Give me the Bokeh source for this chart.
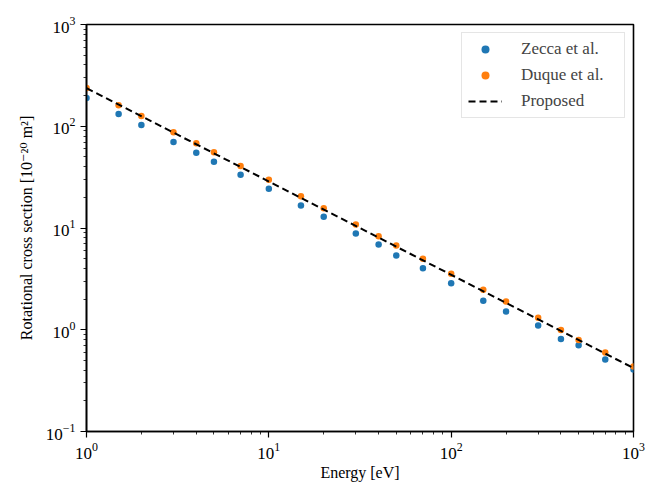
from bokeh.plotting import figure
from bokeh.models import Range1d, Legend, LegendItem
from bokeh.embed import file_html
from bokeh.resources import INLINE

# Data
zecca_energy = [1, 1.5, 2, 3, 4, 5, 7, 10, 15, 20, 30, 40, 50, 70, 100, 150, 200, 300, 400, 500, 700, 1000]
zecca_sigma = [189, 132, 103, 70, 55, 44.7, 33.3, 24.3, 16.6, 12.9, 8.83, 6.9, 5.38, 4.02, 2.87, 1.93, 1.51, 1.10, 0.81, 0.705, 0.51, 0.406]

duque_energy = [1, 1.5, 2, 3, 4, 5, 7, 10, 15, 20, 30, 40, 50, 70, 100, 150, 200, 300, 400, 500, 700, 1000]
duque_sigma = [237, 161, 126, 87.3, 68.1, 55.6, 40.6, 29.8, 20.5, 15.6, 10.8, 8.32, 6.74, 5.0, 3.56, 2.47, 1.90, 1.31, 0.995, 0.795, 0.597, 0.436]

proposed_energy = [1, 1000]
proposed_sigma = [237, 0.42]

FONT = "Liberation Serif"
FONT_FB = "'Liberation Serif', 'DejaVu Serif'"

p = figure(width=647, height=483, x_axis_type="log", y_axis_type="log",
           x_range=Range1d(1, 1000), y_range=Range1d(0.1, 1000),
           output_backend="svg", toolbar_location=None,
           min_border_left=86, min_border_right=14, min_border_top=24, min_border_bottom=50)

p.background_fill_color = "white"
p.border_fill_color = "white"
p.outline_line_color = "black"
p.outline_line_width = 1.6
p.xgrid.visible = False
p.ygrid.visible = False

z = p.scatter(zecca_energy, zecca_sigma, size=6.5, color="#1f77b4", line_color=None)
d = p.scatter(duque_energy, duque_sigma, size=6.5, color="#ff7f0e", line_color=None)
pr = p.line(proposed_energy, proposed_sigma, line_color="black", line_width=2, line_dash="7 4")

for ax in (p.xaxis[0], p.yaxis[0]):
    ax.axis_line_color = "black"
    ax.axis_line_width = 1.6
    ax.major_tick_in = 0
    ax.major_tick_out = 6
    ax.minor_tick_in = 0
    ax.minor_tick_out = 3
    ax.major_tick_line_color = "black"
    ax.minor_tick_line_color = "black"
    ax.major_tick_line_width = 1.2
    ax.minor_tick_line_width = 0.8
    ax.major_label_text_font = FONT
    ax.major_label_text_font_size = "17px"
    ax.major_label_text_color = "black"
    ax.axis_label_text_font = FONT_FB
    ax.axis_label_text_font_size = "16px"
    ax.axis_label_text_font_style = "normal"
    ax.axis_label_text_color = "black"

p.xaxis.axis_label = "Energy [eV]"
p.yaxis.axis_label = "Rotational cross section [10\u207b\u00b2\u2070 m\u00b2]"
p.xaxis.axis_label_standoff = 2
p.yaxis.axis_label_standoff = 8

legend = Legend(items=[
    LegendItem(label="Zecca et al.", renderers=[z]),
    LegendItem(label="Duque et al.", renderers=[d]),
    LegendItem(label="Proposed", renderers=[pr]),
], location="top_right")
legend.label_text_font = FONT
legend.label_text_font_size = "17px"
legend.glyph_width = 34
legend.glyph_height = 20
legend.label_height = 20
legend.label_width = 97
legend.label_standoff = 19
legend.spacing = 6
legend.padding = 6
legend.margin = 8
legend.border_line_color = "#cccccc"
legend.border_line_width = 1
legend.background_fill_alpha = 0.8
p.add_layout(legend)

open("out.html", "w").write(file_html(p, INLINE))
